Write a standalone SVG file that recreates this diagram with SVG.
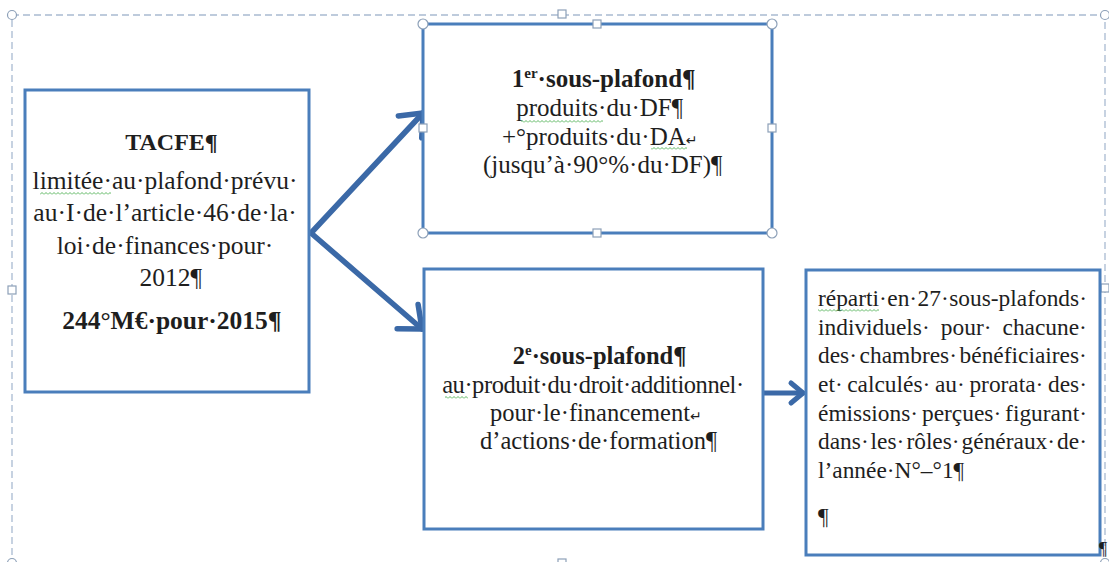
<svg xmlns="http://www.w3.org/2000/svg" width="1109" height="562" viewBox="0 0 1109 562">
<style>
.box{fill:#fff;stroke:#4a7ebb;stroke-width:3}
.t{font-family:"Liberation Serif","Times New Roman",serif;fill:#1e1e1e}
.c{text-anchor:middle}
.b{font-weight:bold}
.h{fill:#fff;stroke:#8da0b8;stroke-width:1.2}
.arrow{fill:none;stroke:#3b69a7;stroke-linecap:round}
.frame{fill:none;stroke:#a9bbd1;stroke-width:1.3;stroke-dasharray:7 4}
.sym{font-family:"DejaVu Sans",sans-serif;font-size:14px}
.sq{fill:url(#sq)}
</style>
<defs>
<marker id="ah" markerUnits="userSpaceOnUse" viewBox="-24 -20 28 40" refX="0" refY="0" markerWidth="28" markerHeight="40" orient="auto" overflow="visible">
<path d="M-19,-16 L0,0 L-19,16" fill="none" stroke="#3b69a7" stroke-width="5.5" stroke-linecap="round" stroke-linejoin="round"/>
</marker>
<marker id="ahs" markerUnits="userSpaceOnUse" viewBox="-16 -14 20 28" refX="0" refY="0" markerWidth="20" markerHeight="28" orient="auto" overflow="visible">
<path d="M-12,-10 L0,0 L-12,10" fill="none" stroke="#3b69a7" stroke-width="5" stroke-linecap="round" stroke-linejoin="round"/>
</marker>
<pattern id="sq" width="4" height="3" patternUnits="userSpaceOnUse">
<path d="M0,2.5 L2,0.5 L4,2.5" fill="none" stroke="#4caf50" stroke-width="0.9"/>
</pattern>
</defs>

<g id="frame">
<rect class="frame" x="12" y="15" width="1093" height="552"/>
<circle class="h" cx="12" cy="15" r="4.5"/>
<circle class="h" cx="1105" cy="15" r="4.5"/>
<circle class="h" cx="12" cy="563" r="4.5"/>
<circle class="h" cx="1105" cy="563" r="4.5"/>
<rect class="h" x="558" y="10" width="8" height="8"/>
<rect class="h" x="8" y="286" width="8" height="8"/>
<rect class="h" x="1101" y="284" width="8" height="8"/>
<rect class="h" x="558" y="559" width="8" height="8"/>
</g>

<g id="connectors">
<path class="arrow" d="M311,233 L423,113" stroke-width="5.5" marker-end="url(#ah)"/>
<path class="arrow" d="M311,233 L422,329" stroke-width="5.5" marker-end="url(#ah)"/>
<path class="arrow" d="M763,393 L803,393" stroke-width="5" marker-end="url(#ahs)"/>
</g>

<g id="tacfe">
<rect class="box" x="25" y="90" width="284" height="302"/>
<text class="t c b" x="171.5" y="150" font-size="24">TACFE¶</text>
<text class="t c" font-size="25.5">
<tspan x="168.2" y="189">limitée·au·plafond·prévu·</tspan>
<tspan x="168.2" y="221">au·I·de·l’article·46·de·la·</tspan>
<tspan x="168.2" y="254">loi·de·finances·pour·</tspan>
<tspan x="170.8" y="286">2012¶</tspan>
</text>
<text class="t c b" x="171.9" y="329" font-size="25.5">244°M€·pour·2015¶</text>
<rect class="sq" x="40" y="192" width="71" height="3"/>
</g>

<g id="sous-plafond-1">
<rect class="box" x="423" y="24" width="349" height="209"/>
<text class="t c b" x="603.7" y="87" font-size="25">1<tspan font-size="15" dy="-9">er</tspan><tspan dy="9">·sous-plafond¶</tspan></text>
<text class="t c" font-size="25">
<tspan x="602.7" y="116">produits·du·DF¶</tspan>
<tspan x="602.9" y="145">+°produits·du·DA<tspan class="sym">↵</tspan></tspan>
<tspan x="602.7" y="173">(jusqu’à·90°%·du·DF)¶</tspan>
</text>
<rect class="sq" x="521" y="120" width="82" height="3"/>
<rect class="sq" x="651" y="147" width="36" height="3"/>
<circle class="h" cx="423" cy="24" r="5"/>
<circle class="h" cx="772" cy="24" r="5"/>
<circle class="h" cx="423" cy="233" r="5"/>
<circle class="h" cx="772" cy="233" r="5"/>
<rect class="h" x="593" y="20" width="8" height="8"/>
<rect class="h" x="593" y="229" width="8" height="8"/>
<rect class="h" x="419" y="124" width="8" height="8"/>
<rect class="h" x="768" y="124" width="8" height="8"/>
</g>

<g id="sous-plafond-2">
<rect class="box" x="424" y="269" width="339" height="260"/>
<text class="t c b" x="599.6" y="364" font-size="24.5">2<tspan font-size="15" dy="-9">e</tspan><tspan dy="9">·sous-plafond¶</tspan></text>
<text class="t c" font-size="24.5">
<tspan x="596" y="393" textLength="302" lengthAdjust="spacing">au·produit·du·droit·additionnel·</tspan>
<tspan x="598.9" y="421">pour·le·financement<tspan class="sym">↵</tspan></tspan>
<tspan x="598.5" y="449">d’actions·de·formation¶</tspan>
</text>
<rect class="sq" x="445" y="396" width="23" height="3"/>
</g>

<g id="repartition">
<rect class="box" x="806" y="270" width="294" height="285"/>
<text class="t" font-size="23.4">
<tspan x="818" y="306">réparti·</tspan><tspan x="887.3" y="306">en·</tspan><tspan x="917.6" y="306">27·</tspan><tspan x="949.2" y="306">sous-plafonds·</tspan>
<tspan x="818" y="335">individuels·</tspan><tspan x="940.8" y="335">pour·</tspan><tspan x="1002.5" y="335">chacune·</tspan>
<tspan x="818" y="363">des·</tspan><tspan x="859.6" y="363">chambres·</tspan><tspan x="959.6" y="363">bénéficiaires·</tspan>
<tspan x="818" y="392">et·</tspan><tspan x="847.2" y="392">calculés·</tspan><tspan x="934.9" y="392">au·</tspan><tspan x="969.4" y="392">prorata·</tspan><tspan x="1048" y="392">des·</tspan>
<tspan x="818" y="421">émissions·</tspan><tspan x="922" y="421">perçues·</tspan><tspan x="1005.1" y="421">figurant·</tspan>
<tspan x="818" y="449">dans·</tspan><tspan x="870.6" y="449">les·</tspan><tspan x="906.4" y="449">rôles·</tspan><tspan x="961.6" y="449">généraux·</tspan><tspan x="1057.1" y="449">de·</tspan>
<tspan x="818" y="478">l’année·N°–°1¶</tspan>
<tspan x="818" y="524">¶</tspan>
</text>
<rect class="sq" x="818" y="309" width="61" height="3"/>
<text class="t" x="1099" y="555" font-size="18">¶</text>
</g>
</svg>
